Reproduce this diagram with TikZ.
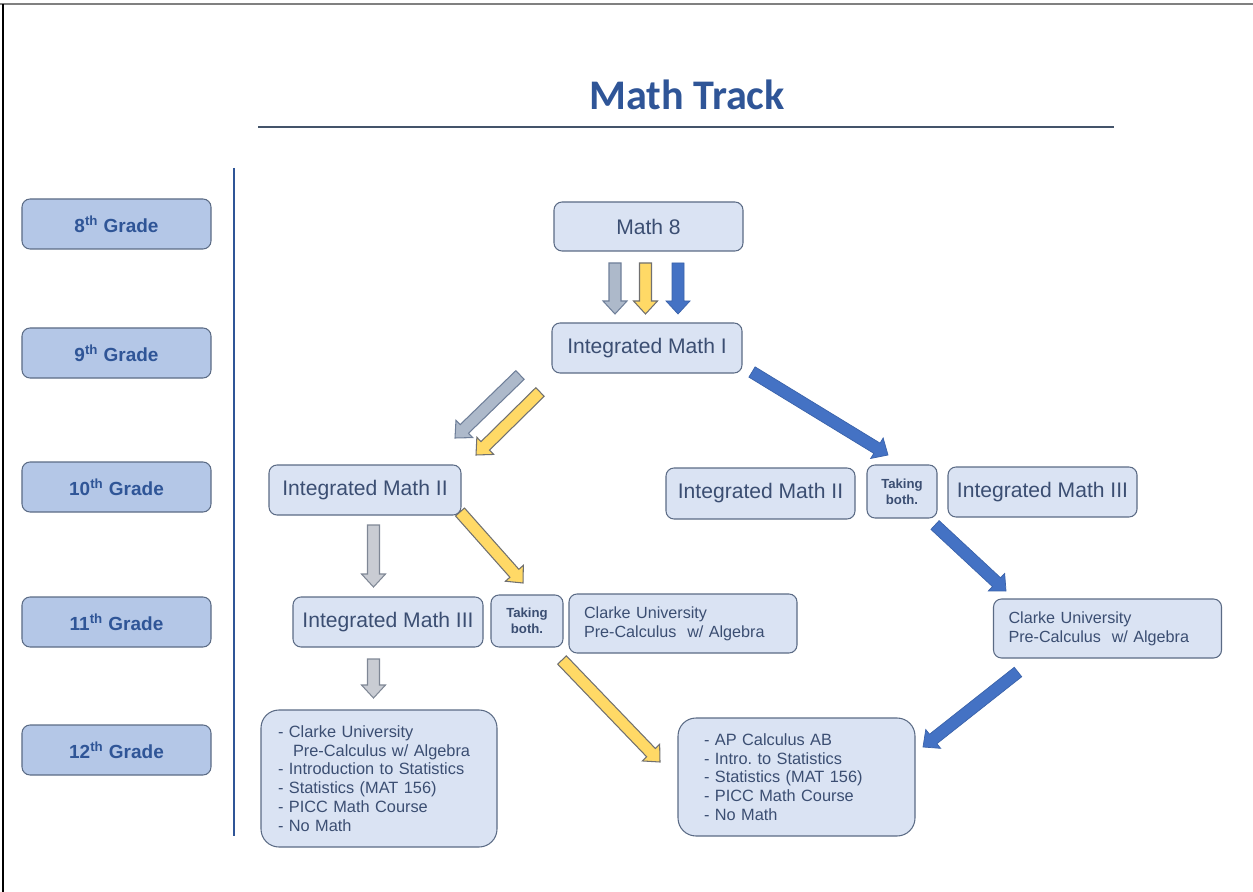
\documentclass[tikz,border=0pt]{standalone}
\usepackage{fontspec}
\setmainfont{Liberation Sans}
\newfontfamily\titlefont{Carlito}
\usepackage{xcolor}
\usepackage{tikz}
\usetikzlibrary{
  positioning,
  calc
}
\frenchspacing

\definecolor{boxfill}{HTML}{DAE3F3}
\definecolor{boxline}{HTML}{5B6B85}
\definecolor{boxtext}{HTML}{3B4E72}
\definecolor{gradefill}{HTML}{B4C7E7}
\definecolor{gradetext}{HTML}{2F5597}
\definecolor{titleblue}{HTML}{2F5597}
\definecolor{rulegray}{HTML}{44546A}
\definecolor{slatefill}{HTML}{ADB9CA}
\definecolor{slateline}{HTML}{6F7F99}
\definecolor{silverfill}{HTML}{C9CCD3}
\definecolor{silverline}{HTML}{7F8795}
\definecolor{goldfill}{HTML}{FFD966}
\definecolor{goldline}{HTML}{707070}
\definecolor{bluefill}{HTML}{4472C4}
\definecolor{blueline}{HTML}{3A62AA}

% 太い矢印 (スタイル, 始点, 先端)
\newcommand\fatarrow[3]{%
  \coordinate (fa-base) at ($(#3)!2.6mm!(#2)$);
  \filldraw[#1]
    ($(#2)!1.2mm!90:(#3)$) -- ($(fa-base)!1.2mm!90:(#3)$)
    -- ($(fa-base)!2.4mm!90:(#3)$) -- (#3)
    -- ($(fa-base)!2.4mm!-90:(#3)$) -- ($(fa-base)!1.2mm!-90:(#3)$)
    -- ($(#2)!1.2mm!-90:(#3)$) -- cycle;}

\tikzset{
  grade/.style={draw=boxline, fill=gradefill, rounded corners=1.6mm, line width=0.6pt,
    minimum width=37.8mm, minimum height=10mm, text=gradetext,
    font=\fontsize{10.8}{13}\selectfont\bfseries},
  course/.style={draw=boxline, fill=boxfill, rounded corners=1.6mm, line width=0.6pt,
    minimum width=38mm, minimum height=10mm, text=boxtext,
    font=\fontsize{12}{14}\selectfont},
  both/.style={course, minimum width=14mm, minimum height=10.6mm, inner sep=0pt,
    align=center, font=\fontsize{7.5}{9}\selectfont\bfseries},
  clarke/.style={course, align=left, inner xsep=3mm, text width=39.6mm,
    minimum height=11.8mm, font=\fontsize{9.2}{10.8}\selectfont},
  options/.style={course, align=left, rounded corners=3.6mm,
    font=\fontsize{9.3}{10.7}\selectfont},
  slate/.style={fill=slatefill, draw=slateline, line width=0.6pt},
  silver/.style={fill=silverfill, draw=silverline, line width=0.6pt},
  gold/.style={fill=goldfill, draw=goldline, line width=0.6pt},
  royal/.style={fill=bluefill, draw=blueline, line width=0.4pt}
}

\begin{document}
\begin{tikzpicture}[x=0.2mm, y=-0.2mm]
  \useasboundingbox (0,0) rectangle (1253,892);

  % 枠線
  \draw[gray, line width=1.2pt] (0,4) -- (1253,4);
  \draw[black, line width=0.6pt] (3,4) -- (3,892);

  % タイトル
  \node[text=titleblue, font=\titlefont\fontsize{24}{28}\selectfont\bfseries] (title) at (687,95) {Math Track};
  \coordinate (rule-l) at (258,127);
  \coordinate (rule-r) at (1114,127);
  \draw[rulegray, line width=1.4pt] (rule-l) -- (rule-r);
  \coordinate (sep-t) at (234,168);
  \coordinate (sep-b) at (234,836);
  \draw[titleblue, line width=1pt] (sep-t) -- (sep-b);

  % 学年
  \foreach \g/\y in {8/224, 9/353, 10/487, 11/622, 12/750}
    \node[grade] (g\g) at (116.5,\y) {\g\textsuperscript{th} Grade};

  % 科目
  \node[course, minimum width=37.8mm, minimum height=9.8mm] (m8) at (648.5,226.5) {Math 8};
  \node[course] (im1) at (647,348) {Integrated Math I};
  \node[course, minimum width=38.4mm] (im2a) at (365,490) {Integrated Math II};
  \node[course, minimum width=37.8mm, minimum height=10.2mm] (im2b) at (760.5,493.5) {Integrated Math II};
  \node[both] (both10) at (902,491.5) {Taking\\both.};
  \node[course, minimum width=37.8mm] (im3b) at (1042.5,492) {Integrated Math III};
  \node[course] (im3a) at (388,622) {Integrated Math III};
  \node[both, minimum width=14.4mm, minimum height=10.4mm] (both11) at (527,621) {Taking\\both.};
  \node[clarke] (pc11a) at (683,623.5) {Clarke University\\Pre-Calculus\ \ w/ Algebra};
  \node[clarke] (pc11b) at (1107.5,628.5) {Clarke University\\Pre-Calculus\ \ w/ Algebra};
  \node[options, inner xsep=3.4mm, text width=40.4mm, minimum height=27.4mm] (opt12a) at (379,778.5)
    {- Clarke University\\\hspace*{3mm}Pre-Calculus w/ Algebra\\- Introduction to Statistics\\- Statistics (MAT 156)\\- PICC Math Course\\- No Math};
  \node[options, inner xsep=5.2mm, text width=37mm, minimum height=23.6mm] (opt12b) at (796.5,777)
    {- AP Calculus AB\\- Intro. to Statistics\\- Statistics (MAT 156)\\- PICC Math Course\\- No Math};

  % 矢印の端点
  \coordinate (a1s) at (615,263);   \coordinate (a1e) at (615,314);
  \coordinate (a2s) at (645.5,263); \coordinate (a2e) at (645.5,314);
  \coordinate (a3s) at (678,263);   \coordinate (a3e) at (678,314);
  \coordinate (a4s) at (520,375);   \coordinate (a4e) at (455,438);
  \coordinate (a5s) at (540,392);   \coordinate (a5e) at (476,455);
  \coordinate (a6s) at (752,372);   \coordinate (a6e) at (888,455);
  \coordinate (a7s) at (373.5,525); \coordinate (a7e) at (373.5,587);
  \coordinate (a8s) at (460,512);   \coordinate (a8e) at (523,583);
  \coordinate (a9s) at (373.5,659); \coordinate (a9e) at (373.5,698);
  \coordinate (a10s) at (562,660);  \coordinate (a10e) at (660,762);
  \coordinate (a11s) at (935,525);  \coordinate (a11e) at (1006,591);
  \coordinate (a12s) at (1018,672); \coordinate (a12e) at (923,747);

  % 矢印
  \fatarrow{slate}{a1s}{a1e}
  \fatarrow{gold}{a2s}{a2e}
  \fatarrow{royal}{a3s}{a3e}
  \fatarrow{slate}{a4s}{a4e}
  \fatarrow{gold}{a5s}{a5e}
  \fatarrow{royal}{a6s}{a6e}
  \fatarrow{silver}{a7s}{a7e}
  \fatarrow{gold}{a8s}{a8e}
  \fatarrow{silver}{a9s}{a9e}
  \fatarrow{gold}{a10s}{a10e}
  \fatarrow{royal}{a11s}{a11e}
  \fatarrow{royal}{a12s}{a12e}
\end{tikzpicture}
\end{document}
